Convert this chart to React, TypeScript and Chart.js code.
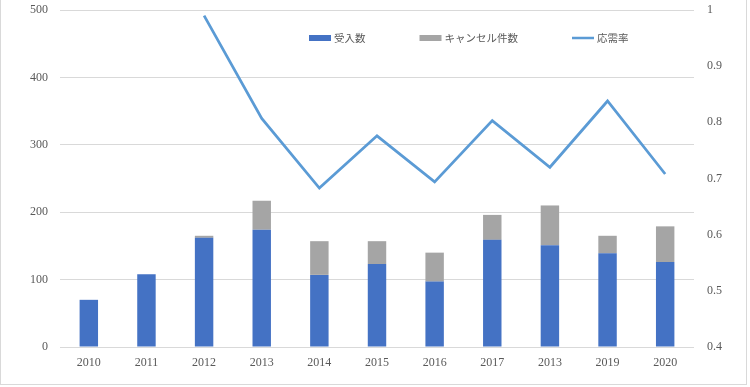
import React, { useEffect, useRef } from "react";
import { Chart, registerables } from "chart.js";

Chart.register(...registerables);

const categories = ["2010", "2011", "2012", "2013", "2014", "2015", "2016", "2017", "2013", "2019", "2020"];
const accepted = [70, 108, 162, 174, 107, 123, 97, 159, 151, 139, 126];
const cancelled = [0, 0, 3, 43, 50, 34, 43, 37, 59, 26, 53];
const responseRate = [null, null, 0.99, 0.807, 0.683, 0.776, 0.694, 0.803, 0.72, 0.838, 0.708];
const leftTicks = [0, 100, 200, 300, 400, 500];
const rightTicks = [0.4, 0.5, 0.6, 0.7, 0.8, 0.9, 1];

const FONT_FAMILY = "'Liberation Serif', 'Noto Sans CJK JP', serif";
const TEXT = "#595959";

const legendPlugin = {
  id: "customLegend",
  afterDraw(chart: any) {
    const ctx = chart.ctx;
    ctx.save();
    ctx.font = "10.5px 'Noto Sans CJK JP', sans-serif";
    ctx.textBaseline = "middle";
    let x = 309;
    const y = 38;
    const items = [...chart.data.datasets].sort((a: any, b: any) => (a.type === "line" ? 1 : 0) - (b.type === "line" ? 1 : 0));
    items.forEach((ds: any) => {
      if (ds.type === "line") {
        ctx.strokeStyle = ds.borderColor;
        ctx.lineWidth = 2.5;
        ctx.beginPath();
        ctx.moveTo(x, y);
        ctx.lineTo(x + 22, y);
        ctx.stroke();
      } else {
        ctx.fillStyle = ds.backgroundColor;
        ctx.fillRect(x, y - 3, 22, 6);
      }
      x += 25;
      ctx.fillStyle = TEXT;
      ctx.fillText(ds.label, x, y);
      x += ctx.measureText(ds.label).width + 54;
    });
    ctx.restore();
  },
};

export default function App() {
  const ref = useRef<HTMLCanvasElement>(null);
  useEffect(() => {
    if (!ref.current) return;
    const chart = new Chart(ref.current, {
      type: "bar",
      data: {
        labels: categories,
        datasets: [
          {
            type: "line",
            label: "応需率",
            data: responseRate,
            borderColor: "#5b9bd5",
            backgroundColor: "#5b9bd5",
            borderWidth: 2.75,
            pointRadius: 0,
            yAxisID: "y1",
            order: 0,
            spanGaps: false,
          } as any,
          {
            type: "bar",
            label: "受入数",
            data: accepted,
            backgroundColor: "#4472c4",
            yAxisID: "y",
            stack: "s",
            order: 1,
            barPercentage: 0.32,
            categoryPercentage: 1,
          },
          {
            type: "bar",
            label: "キャンセル件数",
            data: cancelled,
            backgroundColor: "#a5a5a5",
            yAxisID: "y",
            stack: "s",
            order: 1,
            barPercentage: 0.32,
            categoryPercentage: 1,
          },
        ],
      },
      plugins: [legendPlugin],
      options: {
        responsive: false,
        animation: false,
        layout: { padding: { top: 10, left: 0, right: 0, bottom: 0 } },
        plugins: { legend: { display: false }, tooltip: { enabled: false } },
        scales: {
          x: {
            stacked: true,
            grid: { display: false, drawTicks: false },
            border: { display: false },
            ticks: { color: TEXT, font: { family: FONT_FAMILY, size: 12 }, padding: 9, maxRotation: 0, autoSkip: false },
            afterFit: (s: any) => { s.height = 40; s.paddingLeft = 0; s.paddingRight = 0; },
          },
          y: {
            stacked: true,
            position: "left",
            min: 0,
            max: 500,
            afterBuildTicks: (s: any) => { s.ticks = leftTicks.map((v) => ({ value: v })); },
            grid: { color: "#d9d9d9", drawTicks: false, lineWidth: 1 },
            border: { display: false },
            ticks: { color: TEXT, font: { family: FONT_FAMILY, size: 12 }, padding: 12 },
            afterFit: (s: any) => { s.width = 60; s.paddingTop = 0; s.paddingBottom = 0; },
          },
          y1: {
            position: "right",
            min: 0.4,
            max: 1,
            afterBuildTicks: (s: any) => { s.ticks = rightTicks.map((v) => ({ value: v })); },
            grid: { display: false, drawTicks: false },
            border: { display: false },
            ticks: {
              color: TEXT,
              font: { family: FONT_FAMILY, size: 12 },
              padding: 13,
              callback: (v: any) => String(Math.round(Number(v) * 10) / 10),
            },
            afterFit: (s: any) => { s.width = 56; s.paddingTop = 0; s.paddingBottom = 0; },
          },
        },
      },
    });
    return () => chart.destroy();
  }, []);
  return (
    <div style={{ position: "fixed", left: 0, top: 0, width: 750, height: 387, background: "#fff" }}>
      <canvas ref={ref} width={750} height={387} style={{ position: "absolute", left: 0, top: 0 }} />
      <div
        style={{
          position: "absolute",
          left: 0,
          top: -2,
          width: 747,
          height: 387,
          border: "1px solid #d9d9d9",
          boxSizing: "border-box",
          pointerEvents: "none",
        }}
      />
    </div>
  );
}
